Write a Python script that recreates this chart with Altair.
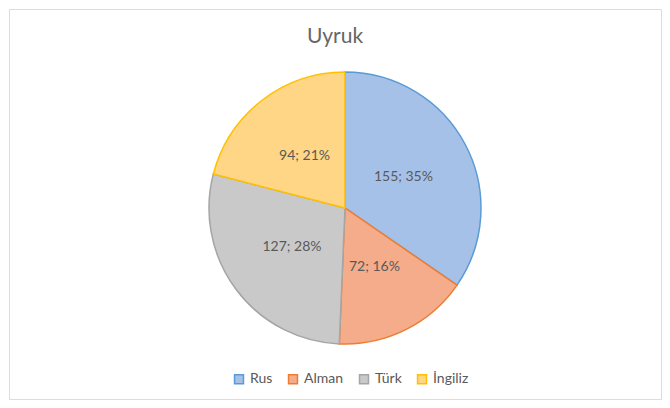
import altair as alt
import pandas as pd

categories = ["Rus", "Alman", "Türk", "İngiliz"]
values = [155, 72, 127, 94]
percents = ["35%", "16%", "28%", "21%"]
fills = ["#a6c1e7", "#f5ac8a", "#c9c9c9", "#ffd685"]
strokes = ["#5b9bd5", "#ed7d31", "#a5a5a5", "#ffc000"]

df = pd.DataFrame({
    "Uyruk": categories,
    "Sayı": values,
    "order": list(range(len(categories))),
    "label": [f"{v}; {p}" for v, p in zip(values, percents)],
})

CX, CY, R = 336, 199, 136

base = alt.Chart(df).encode(
    theta=alt.Theta("Sayı:Q", stack=True),
    order=alt.Order("order:Q"),
)

pie = base.mark_arc(outerRadius=R, strokeWidth=1.5).encode(
    x=alt.value(CX),
    y=alt.value(CY),
    fill=alt.Fill(
        "Uyruk:N",
        sort=categories,
        scale=alt.Scale(domain=categories, range=fills),
        legend=alt.Legend(
            title=None,
            orient="none",
            direction="horizontal",
            legendX=223,
            legendY=363,
            symbolType="square",
            symbolSize=80,
            symbolStrokeWidth=1.5,
            labelFont="Lato",
            labelFontSize=14,
            labelColor="#595959",
            columnPadding=12,
            labelOffset=4,
        ),
    ),
    stroke=alt.Stroke(
        "Uyruk:N",
        sort=categories,
        scale=alt.Scale(domain=categories, range=strokes),
        legend=None,
    ),
)

labels = base.mark_text(
    radius=66, font="Lato", fontSize=14, color="#595959"
).encode(
    x=alt.value(CX),
    y=alt.value(CY),
    text="label:N",
)

chart = alt.layer(pie, labels).properties(
    width=652,
    height=390,
    padding=1,
    autosize=alt.AutoSizeParams(type="none"),
    title=alt.TitleParams(
        "Uyruk",
        font="Lato",
        fontSize=21,
        fontWeight="normal",
        color="#666666",
        anchor="middle",
        offset=-38,
        frame="group",
    ),
).configure_view(
    stroke="#d9d9d9", strokeWidth=1.5
).configure(background="white")

chart.save("out.html", embed_options={"renderer": "svg", "actions": False})
